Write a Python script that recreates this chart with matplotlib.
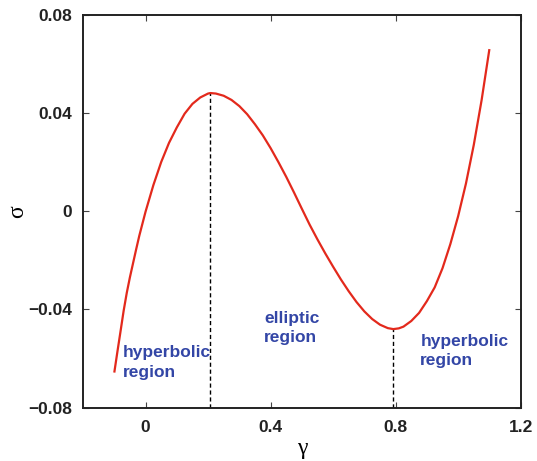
import matplotlib
matplotlib.use("Agg")
import matplotlib.pyplot as plt

# sigma(gamma) curve samples
gamma = [-0.100, -0.090, -0.080, -0.070, -0.060, -0.050, -0.040, -0.030,
         -0.020, -0.010, 0.000, 0.025, 0.050, 0.075, 0.100, 0.125, 0.150,
         0.175, 0.200, 0.2075, 0.225, 0.250, 0.275, 0.300, 0.325, 0.350,
         0.375, 0.400, 0.425, 0.450, 0.475, 0.500, 0.525, 0.550, 0.575,
         0.600, 0.625, 0.650, 0.675, 0.700, 0.725, 0.750, 0.775, 0.7925,
         0.810, 0.825, 0.850, 0.875, 0.900, 0.925, 0.950, 0.975, 1.000,
         1.025, 1.050, 1.075, 1.100]
sigma = [-0.0657, -0.0572, -0.0489, -0.0405, -0.0332, -0.0269, -0.0212,
         -0.0155, -0.0100, -0.0051, -0.0002, 0.0106, 0.0200, 0.0278,
         0.0341, 0.0397, 0.0437, 0.0463, 0.0479, 0.0481, 0.0479, 0.0470,
         0.0453, 0.0428, 0.0395, 0.0354, 0.0309, 0.0257, 0.0200, 0.0140,
         0.0076, 0.0010, -0.0055, -0.0115, -0.0172, -0.0226, -0.0278,
         -0.0326, -0.0370, -0.0408, -0.0439, -0.0462, -0.0476, -0.0480,
         -0.0477, -0.0470, -0.0447, -0.0414, -0.0366, -0.0310, -0.0232,
         -0.0134, -0.0020, 0.0113, 0.0270, 0.0452, 0.0660]

# extrema of the curve (boundaries between regions)
gamma_max, sigma_max = 0.2075, 0.0481
gamma_min, sigma_min = 0.7925, -0.0480

xticks = [0.0, 0.4, 0.8, 1.2]
xtick_labels = ["0", "0.4", "0.8", "1.2"]
yticks = [-0.08, -0.04, 0.0, 0.04, 0.08]
ytick_labels = ["\u22120.08", "\u22120.04", "0", "0.04", "0.08"]

region_labels = ["hyperbolic\nregion", "elliptic\nregion", "hyperbolic\nregion"]
region_pos = [(-0.073, -0.0616), (0.379, -0.0475), (0.879, -0.0569)]

fig = plt.figure(figsize=(5.37, 4.61), dpi=100)
ax = fig.add_axes([0.1546, 0.1156, 0.8150, 0.8525])

ax.plot(gamma, sigma, color="#e3291c", lw=1.6, solid_capstyle="butt",
        solid_joinstyle="round", zorder=3)

ax.vlines([gamma_max], -0.08, sigma_max, colors="black", linestyles=(0, (3, 2)), lw=1.0)
ax.vlines([gamma_min], -0.08, sigma_min, colors="black", linestyles=(0, (3, 2)), lw=1.0)

for txt, (gx, sy) in zip(region_labels, region_pos):
    ax.text(gx, sy, txt, color="#3346a6", fontsize=12.5, fontweight="bold",
            family="Liberation Sans", ha="left", va="center", linespacing=1.35)

ax.set_xlim(-0.2, 1.2)
ax.set_ylim(-0.08, 0.08)
ax.set_xticks(xticks)
ax.set_xticklabels(xtick_labels)
ax.set_yticks(yticks)
ax.set_yticklabels(ytick_labels)

for lab in ax.get_xticklabels() + ax.get_yticklabels():
    lab.set_family("Liberation Sans")
    lab.set_fontweight("bold")
    lab.set_fontsize(12.5)
    lab.set_color("#222222")

ax.tick_params(direction="in", length=4, width=0.8, top=True, right=True,
               color="#444444")
ax.tick_params(axis="x", pad=9)
ax.tick_params(axis="y", pad=8)

for sp in ax.spines.values():
    sp.set_linewidth(1.4)
    sp.set_color("#222222")

ax.set_xlabel("\u03b3", family="Liberation Serif", fontsize=17, labelpad=2)
ax.set_ylabel("\u03c3", family="Liberation Serif", fontsize=17, labelpad=0)

fig.savefig("out.png", dpi=100)
